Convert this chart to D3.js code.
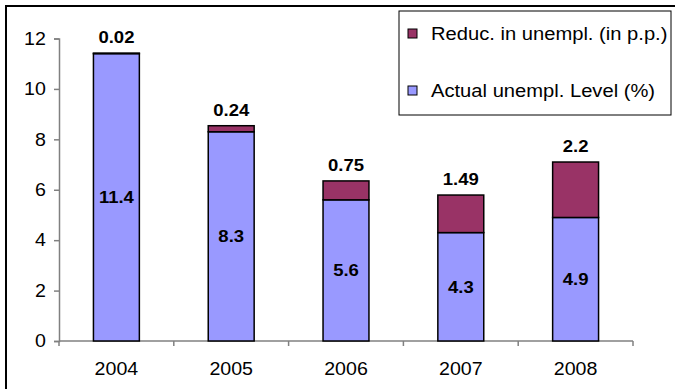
<!DOCTYPE html>
<html>
<head>
<meta charset="utf-8">
<script src="https://cdn.jsdelivr.net/npm/d3@7"></script>
<style>
  body { margin: 0; background: #fff; }
  svg { display: block; font-family: "Liberation Sans", Arial, sans-serif; }
</style>
</head>
<body>
<svg id="chart"></svg>
<script>
// data
const years = ['2004', '2005', '2006', '2007', '2008'];
const actualLevel = [11.4, 8.3, 5.6, 4.3, 4.9];
const reduction = [0.02, 0.24, 0.75, 1.49, 2.2];
const yTicks = [0, 2, 4, 6, 8, 10, 12];
const seriesNames = ['Reduc. in unempl. (in p.p.)', 'Actual unempl. Level (%)'];
const seriesColors = ['#993366', '#9999FF'];

const width = 675, height = 389;
const stretch = 1.09; // text in the reference is a bit wide
const svg = d3.select('#chart').attr('width', width).attr('height', height);

// outer frame (runs past right/bottom edge like the reference)
svg.append('rect')
    .attr('x', 6).attr('y', 6)
    .attr('width', 700).attr('height', 420)
    .attr('fill', 'none')
    .attr('stroke', '#000')
    .attr('stroke-width', 2);

const x = d3.scaleBand().domain(years).range([59, 633]).padding(0);
const y = d3.scaleLinear().domain([0, 12]).range([341, 38.5]);

const barW = x.bandwidth() * 0.4;
const rows = years.map((yr, i) => ({ year: yr, actual: actualLevel[i], red: reduction[i] }));

// helper for stretched, centred text
function label(sel, fx, fy, size, bold) {
    return sel.append('text')
        .attr('transform', d => `translate(${fx(d)},${fy(d)}) scale(${stretch},1)`)
        .attr('text-anchor', 'middle')
        .style('font-size', size + 'px')
        .style('font-weight', bold ? 'bold' : 'normal');
}

// y axis
const yAxis = svg.append('g')
    .attr('transform', 'translate(59,0)')
    .call(d3.axisLeft(y).tickValues(yTicks).tickSize(5).tickPadding(7).tickFormat(d3.format('d')));
yAxis.select('.domain').attr('stroke', '#808080').attr('stroke-width', 1.5);
yAxis.selectAll('.tick line').attr('stroke', '#808080').attr('stroke-width', 1.5);
yAxis.selectAll('.tick text')
    .attr('fill', '#000')
    .attr('transform', `scale(${stretch},1)`)
    .style('font-size', '18px');

// x axis: ticks at category boundaries
svg.append('line')
    .attr('x1', 59).attr('x2', 633)
    .attr('y1', y(0)).attr('y2', y(0))
    .attr('stroke', '#808080').attr('stroke-width', 1.5);
const bounds = years.map(d => x(d)).concat([x(years[years.length - 1]) + x.bandwidth()]);
svg.selectAll('.xtick')
    .data(bounds)
    .enter()
    .append('line')
    .attr('x1', d => d).attr('x2', d => d)
    .attr('y1', y(0)).attr('y2', y(0) + 5)
    .attr('stroke', '#808080').attr('stroke-width', 1.5);
label(svg.selectAll('.xlabel').data(years).enter(),
      d => x(d) + x.bandwidth() / 2, d => y(0) + 34, 18, false)
    .text(d => d);

// bars: actual level (bottom)
svg.selectAll('.bar-actual')
    .data(rows)
    .enter()
    .append('rect')
    .attr('x', d => x(d.year) + (x.bandwidth() - barW) / 2)
    .attr('y', d => y(d.actual))
    .attr('width', barW)
    .attr('height', d => y(0) - y(d.actual))
    .attr('fill', seriesColors[1])
    .attr('stroke', '#000')
    .attr('stroke-width', 1.5);

// bars: reduction (top)
svg.selectAll('.bar-red')
    .data(rows)
    .enter()
    .append('rect')
    .attr('x', d => x(d.year) + (x.bandwidth() - barW) / 2)
    .attr('y', d => y(d.actual + d.red))
    .attr('width', barW)
    .attr('height', d => y(d.actual) - y(d.actual + d.red))
    .attr('fill', seriesColors[0])
    .attr('stroke', '#000')
    .attr('stroke-width', 1.5);

// labels inside the blue bars
label(svg.selectAll('.lbl-actual').data(rows).enter(),
      d => x(d.year) + x.bandwidth() / 2, d => y(d.actual / 2) + 6, 17, true)
    .text(d => d.actual);

// labels above the stacks
label(svg.selectAll('.lbl-red').data(rows).enter(),
      d => x(d.year) + x.bandwidth() / 2, d => y(d.actual + d.red) - 10, 17, true)
    .text(d => d.red);

// legend
const legend = svg.append('g');
legend.append('rect')
    .attr('x', 399).attr('y', 11)
    .attr('width', 272).attr('height', 104)
    .attr('fill', '#fff')
    .attr('stroke', '#000')
    .attr('stroke-width', 1);
const items = legend.selectAll('.item')
    .data(seriesNames)
    .enter()
    .append('g')
    .attr('transform', (d, i) => `translate(408, ${33.5 + i * 57})`);
items.append('rect')
    .attr('x', 0).attr('y', -4.5)
    .attr('width', 9).attr('height', 9)
    .attr('fill', (d, i) => seriesColors[i])
    .attr('stroke', '#000')
    .attr('stroke-width', 1);
items.append('text')
    .attr('transform', `translate(23,0) scale(${stretch},1)`)
    .attr('dy', '0.35em')
    .style('font-size', '18.5px')
    .text(d => d);
</script>
</body>
</html>
